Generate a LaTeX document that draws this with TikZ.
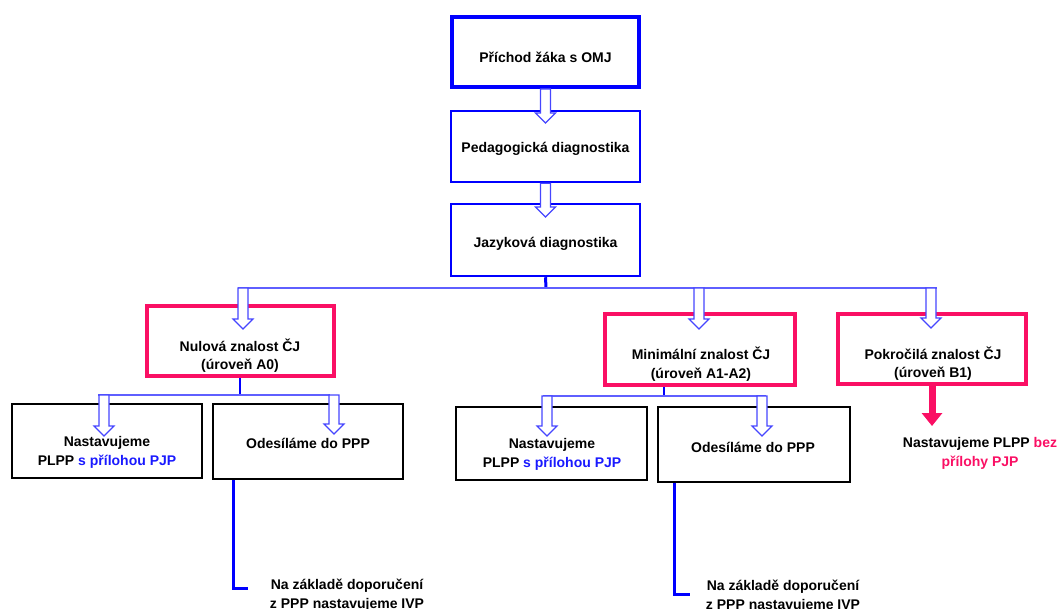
\documentclass[tikz,border=0pt]{standalone}
\usepackage{fontspec}
\setmainfont{Liberation Sans}
\usetikzlibrary{calc,arrows.meta}
\definecolor{darkblue}{RGB}{0,0,255}
\definecolor{lineblue}{RGB}{95,95,255}
\definecolor{arrowblue}{RGB}{70,70,255}
\definecolor{hotpink}{RGB}{250,15,100}
\definecolor{textblue}{RGB}{25,25,255}
\newcommand{\openarrow}[2]{\draw[openarr] let \p1=(#1), \p2=(#2) in (\x1-5pt,\y1) -- (\x1+5pt,\y1) -- (\x1+5pt,\y2+10pt) -- (\x1+10pt,\y2+10pt) -- (\x1,\y2) -- (\x1-10pt,\y2+10pt) -- (\x1-5pt,\y2+10pt) -- cycle;}

\begin{document}
\begin{tikzpicture}[x=1pt,y=-1pt,
  bluebox/.style={draw=darkblue,line width=2.5pt,minimum width=189pt,minimum height=71pt},
  pinkbox/.style={draw=hotpink,line width=4pt,minimum width=187pt,minimum height=70pt},
  plainbox/.style={draw=black,line width=1.1pt,minimum width=190pt,minimum height=73pt},
  txt/.style={align=center,font=\fontsize{14}{18.5}\selectfont\bfseries,text=black,inner sep=0pt},
  link/.style={lineblue,line width=1.5pt},
  stem/.style={darkblue,line width=2.5pt},
  openarr/.style={draw=arrowblue,fill=white,line width=1.2pt}]
\useasboundingbox (0,0) rectangle (1062,609);

\node[bluebox,line width=4pt,minimum width=187pt,minimum height=70pt] (arrival) at (545.5,52) {};
\node[bluebox] (peddiag) at (545.5,146.5) {};
\node[bluebox,minimum height=72pt] (langdiag) at (545.5,240) {};
\node[txt] (arrivaltext) at (545.5,57) {Příchod žáka s OMJ};
\node[txt] (peddiagtext) at (545.5,149) {Pedagogická diagnostika};
\node[txt] (langdiagtext) at (545.5,244) {Jazyková diagnostika};

\node[pinkbox] (zero) at (240,341) {};
\node[pinkbox,minimum width=190pt,minimum height=71pt] (minimal) at (700,349.5) {};
\node[pinkbox,minimum width=188pt] (advanced) at (932,349) {};
\node[txt] (zerotext) at (240,355.5) {Nulová znalost ČJ\\(úroveň A0)};
\node[txt] (minimaltext) at (701,364) {Minimální znalost ČJ\\(úroveň A1-A2)};
\node[txt] (advancedtext) at (933,363.5) {Pokročilá znalost ČJ\\(úroveň B1)};

\node[plainbox,minimum height=74pt] (plppA) at (107,441) {};
\node[plainbox,minimum height=75pt] (pppA) at (308,441.5) {};
\node[plainbox,minimum width=191pt] (plppB) at (551.5,443.5) {};
\node[plainbox,minimum width=192pt,minimum height=75pt] (pppB) at (754,444.5) {};
\node[txt] (plppAtext) at (107,452.5) {Nastavujeme\\PLPP {\color{textblue}s přílohou PJP}};
\node[txt] (pppAtext) at (308,443) {Odesíláme do PPP};
\node[txt] (plppBtext) at (552,454.5) {Nastavujeme\\PLPP {\color{textblue}s přílohou PJP}};
\node[txt] (pppBtext) at (753,447) {Odesíláme do PPP};
\node[txt] (advnote) at (980,453.5) {Nastavujeme PLPP {\color{hotpink}bez}\\{\color{hotpink}přílohy PJP}};
\node[txt] (ivpA) at (347,595) {Na základě doporučení\\z PPP nastavujeme IVP};
\node[txt] (ivpB) at (783,596) {Na základě doporučení\\z PPP nastavujeme IVP};

\coordinate (pedtip) at (544,123);
\coordinate (langtip) at (544,217);
\coordinate (fork) at (546,288);
\coordinate (forkzero) at (243,288);
\coordinate (forkmin) at (699,288);
\coordinate (forkadv) at (931,288);
\coordinate (tipzero) at (243,329);
\coordinate (tipmin) at (699,329);
\coordinate (tipadv) at (931,328);
\coordinate (zfork) at (240,395);
\coordinate (zleft) at (104,395);
\coordinate (zright) at (334,395);
\coordinate (zlefttip) at (104,436);
\coordinate (zrighttip) at (334,434);
\coordinate (mfork) at (664,396);
\coordinate (mleft) at (547,396);
\coordinate (mright) at (762,396);
\coordinate (mlefttip) at (547,436);
\coordinate (mrighttip) at (762,436);
\coordinate (advtip) at (932,426);
\coordinate (ivpAcorner) at (233,588);
\coordinate (ivpAend) at (248,588);
\coordinate (ivpBcorner) at (674,594);
\coordinate (ivpBend) at (690,594);

\draw[stem,line width=3pt] (langdiag.south) -- (fork);
\draw[link] ($(forkzero)+(-5,0)$) -- ($(forkadv)+(6,0)$);
\draw[stem,line width=2pt] (zero.south) -- (zfork);
\draw[link] ($(zleft)+(-6,0)$) -- ($(zright)+(-4,0)$);
\draw[stem,line width=2pt] (mfork |- minimal.south) -- (mfork);
\draw[link] ($(mleft)+(-4,0)$) -- ($(mright)+(4,0)$);
\draw[stem,line width=3pt] (ivpAcorner |- pppA.south) -- (ivpAcorner) -- (ivpAend);
\draw[stem,line width=3pt] (ivpBcorner |- pppB.south) -- (ivpBcorner) -- (ivpBend);
\draw[hotpink,line width=7pt,-{Triangle[width=20pt,length=13pt]}] (advanced.south) -- (advtip);

\openarrow{arrival.south}{pedtip}
\openarrow{peddiag.south}{langtip}
\openarrow{forkzero}{tipzero}
\openarrow{forkmin}{tipmin}
\openarrow{forkadv}{tipadv}
\openarrow{zleft}{zlefttip}
\openarrow{zright}{zrighttip}
\openarrow{mleft}{mlefttip}
\openarrow{mright}{mrighttip}
\end{tikzpicture}
\end{document}
